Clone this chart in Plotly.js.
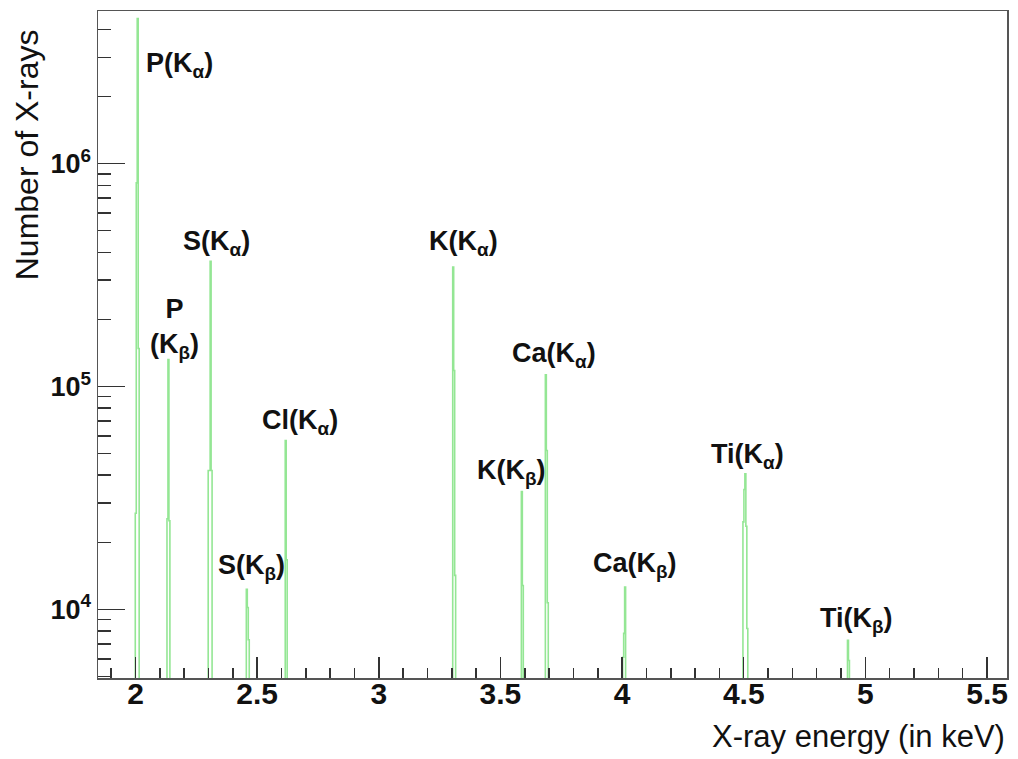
<!DOCTYPE html>
<html>
<head>
<meta charset="utf-8">
<script src="https://cdn.plot.ly/plotly-3.0.1.min.js"></script>
<style>
  html, body { margin: 0; padding: 0; background: #ffffff; }
  #chart { width: 1018px; height: 759px; }
</style>
</head>
<body>
<div id="chart"></div>
<script>
// ---------------- data ----------------
const BIN_WIDTH = 0.004; // keV per histogram bin

const lineNames = ['P(Kα)', 'P(Kβ)', 'S(Kα)', 'S(Kβ)', 'Cl(Kα)', 'K(Kα)',
                   'K(Kβ)', 'Ca(Kα)', 'Ca(Kβ)', 'Ti(Kα)', 'Ti(Kβ)'];

// lower energy edge (keV) of the first non-empty bin of each line
const binStart = [1.9992, 2.1295, 2.2989, 2.4556, 2.6155, 3.3039,
                  3.5860, 3.6846, 4.0025, 4.4967, 4.9264];

// counts of consecutive bins for each line
const binCounts = [
  [2.7e4, 8.2e5, 4.48e6, 1.48e5],
  [2.55e4, 1.32e5, 2.5e4],
  [4.2e4, 4.2e4, 3.65e5, 4.2e4],
  [1.23e4, 1.02e4, 7.3e3],
  [5.72e4, 1.67e4],
  [3.44e5, 1.18e5, 1.42e4],
  [3.38e4, 1.28e4],
  [1.13e5, 5.16e4, 1.07e4],
  [6.1e3, 7.8e3, 1.26e4],
  [2.47e4, 3.45e4, 4.06e4, 2.36e4, 8.2e3],
  [7.26e3, 5.9e3]
];

const xTickVals = [2, 2.5, 3, 3.5, 4, 4.5, 5, 5.5];
const yTickVals = [1e4, 1e5, 1e6];
const yTickText = ['10<sup>4</sup>', '10<sup>5</sup>', '10<sup>6</sup>'];

// label texts (rich text) and where they sit (energy, log10 count)
const labelText = ['P(K<sub>α</sub>)', 'P<br>(K<sub>β</sub>)', 'S(K<sub>α</sub>)', 'S(K<sub>β</sub>)',
                   'Cl(K<sub>α</sub>)', 'K(K<sub>α</sub>)', 'K(K<sub>β</sub>)', 'Ca(K<sub>α</sub>)',
                   'Ca(K<sub>β</sub>)', 'Ti(K<sub>α</sub>)', 'Ti(K<sub>β</sub>)'];
const labelPos = [
  [2.179, 6.441], [2.162, 5.262], [2.335, 5.642], [2.475, 4.188],
  [2.676, 4.839], [3.347, 5.642], [3.544, 4.615], [3.721, 5.140],
  [4.054, 4.197], [4.514, 4.687], [4.963, 3.951]
];

// ---------------- build step outline ----------------
const BASE = 1; // empty bins: far below the visible log range
const xs = [], ys = [];
binStart.forEach((start, k) => {
  const c = binCounts[k];
  xs.push(start); ys.push(BASE);
  c.forEach((v, i) => {
    xs.push(start + i * BIN_WIDTH); ys.push(v);
    xs.push(start + (i + 1) * BIN_WIDTH); ys.push(v);
  });
  xs.push(start + c.length * BIN_WIDTH); ys.push(BASE);
  xs.push(null); ys.push(null);
});

const trace = {
  type: 'scatter',
  mode: 'lines',
  x: xs,
  y: ys,
  connectgaps: false,
  line: { color: 'rgba(60,210,60,0.55)', width: 1.6, shape: 'linear' },
  hoverinfo: 'skip',
  showlegend: false
};

// minor ticks on log axis (2..9 per decade)
const yMinor = [];
for (let d = 3; d <= 6; d++) for (let m = 2; m <= 9; m++) yMinor.push(m * Math.pow(10, d));

const FONT = 'Liberation Sans, Arial, Helvetica, sans-serif';

const annotations = labelText.map((t, i) => ({
  text: t,
  x: labelPos[i][0], y: labelPos[i][1],
  xref: 'x', yref: 'y',
  showarrow: false,
  xanchor: 'center', yanchor: 'middle',
  font: { family: FONT, size: 27, color: '#111111', weight: 'bold' }
}));

annotations.push({
  text: 'Number of X-rays',
  xref: 'paper', yref: 'paper',
  x: -0.078, y: 0.975,
  xanchor: 'center', yanchor: 'top',
  textangle: -90, showarrow: false,
  font: { family: FONT, size: 32, color: '#111111' }
});
annotations.push({
  text: 'X-ray energy (in keV)',
  xref: 'paper', yref: 'paper',
  x: 1.0, y: -0.088,
  xanchor: 'right', yanchor: 'middle',
  showarrow: false,
  font: { family: FONT, size: 31, color: '#111111' }
});

const layout = {
  width: 1018, height: 759,
  margin: { l: 98, r: 11, t: 11, b: 81 },
  paper_bgcolor: '#ffffff',
  plot_bgcolor: '#ffffff',
  showlegend: false,
  xaxis: {
    range: [1.846, 5.582],
    tickmode: 'array',
    tickvals: xTickVals,
    ticks: 'inside', ticklen: 21, tickwidth: 1.5, tickcolor: '#333333',
    ticklabelstandoff: -12,
    minor: { dtick: 0.1, tick0: 0, ticks: 'inside', ticklen: 10, tickwidth: 1.5, tickcolor: '#333333', showgrid: false },
    showgrid: false, zeroline: false,
    showline: true, mirror: true, linecolor: '#555555', linewidth: 1.5,
    tickfont: { family: FONT, size: 30, color: '#111111', weight: 'bold' }
  },
  yaxis: {
    type: 'log',
    range: [3.692, 6.685],
    tickmode: 'array',
    tickvals: yTickVals,
    ticktext: yTickText,
    ticks: 'inside', ticklen: 27, tickwidth: 1.5, tickcolor: '#333333',
    minor: { tickmode: 'array', tickvals: yMinor, ticks: 'inside', ticklen: 13, tickwidth: 1.5, tickcolor: '#333333', showgrid: false },
    showgrid: false, zeroline: false,
    showline: true, mirror: true, linecolor: '#555555', linewidth: 1.5,
    tickfont: { family: FONT, size: 27, color: '#111111', weight: 'bold' }
  },
  annotations: annotations
};

Plotly.newPlot('chart', [trace], layout, { staticPlot: true, displayModeBar: false });
</script>
</body>
</html>
